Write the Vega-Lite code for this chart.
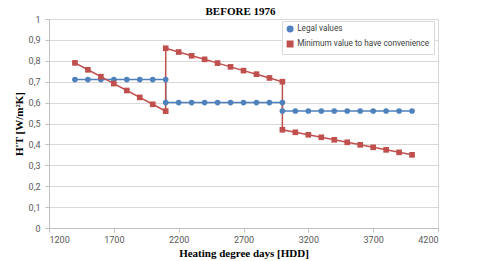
{
  "$schema": "https://vega.github.io/schema/vega-lite/v6.json",
  "width": 389,
  "height": 209,
  "autosize": "none",
  "padding": {"left": 49, "top": 19, "right": 42, "bottom": 33},
  "background": "white",
  "title": {"text": "BEFORE 1976", "font": "Liberation Serif", "fontSize": 11, "fontWeight": "bold", "color": "#000000", "offset": 0, "dy": 2, "dx": -3},
  "config": {
    "view": {"stroke": "#d9d9d9"},
    "axis": {"labelFont": "Roboto", "labelFontSize": 9, "labelColor": "#595959", "titleFont": "Liberation Serif", "titleFontSize": 11, "titleFontWeight": "bold", "titleColor": "#000000", "domainColor": "#bfbfbf", "tickColor": "#bfbfbf", "gridColor": "#d9d9d9"}
  },
  "data": {
    "values": [
      {"x": 1400, "y": 0.71, "s": "Legal values", "o": 1},
      {"x": 1500, "y": 0.71, "s": "Legal values", "o": 2},
      {"x": 1600, "y": 0.71, "s": "Legal values", "o": 3},
      {"x": 1700, "y": 0.71, "s": "Legal values", "o": 4},
      {"x": 1800, "y": 0.71, "s": "Legal values", "o": 5},
      {"x": 1900, "y": 0.71, "s": "Legal values", "o": 6},
      {"x": 2000, "y": 0.71, "s": "Legal values", "o": 7},
      {"x": 2100, "y": 0.71, "s": "Legal values", "o": 8},
      {"x": 2100, "y": 0.60, "s": "Legal values", "o": 9},
      {"x": 2200, "y": 0.60, "s": "Legal values", "o": 10},
      {"x": 2300, "y": 0.60, "s": "Legal values", "o": 11},
      {"x": 2400, "y": 0.60, "s": "Legal values", "o": 12},
      {"x": 2500, "y": 0.60, "s": "Legal values", "o": 13},
      {"x": 2600, "y": 0.60, "s": "Legal values", "o": 14},
      {"x": 2700, "y": 0.60, "s": "Legal values", "o": 15},
      {"x": 2800, "y": 0.60, "s": "Legal values", "o": 16},
      {"x": 2900, "y": 0.60, "s": "Legal values", "o": 17},
      {"x": 3000, "y": 0.60, "s": "Legal values", "o": 18},
      {"x": 3000, "y": 0.56, "s": "Legal values", "o": 19},
      {"x": 3100, "y": 0.56, "s": "Legal values", "o": 20},
      {"x": 3200, "y": 0.56, "s": "Legal values", "o": 21},
      {"x": 3300, "y": 0.56, "s": "Legal values", "o": 22},
      {"x": 3400, "y": 0.56, "s": "Legal values", "o": 23},
      {"x": 3500, "y": 0.56, "s": "Legal values", "o": 24},
      {"x": 3600, "y": 0.56, "s": "Legal values", "o": 25},
      {"x": 3700, "y": 0.56, "s": "Legal values", "o": 26},
      {"x": 3800, "y": 0.56, "s": "Legal values", "o": 27},
      {"x": 3900, "y": 0.56, "s": "Legal values", "o": 28},
      {"x": 4000, "y": 0.56, "s": "Legal values", "o": 29},
      {"x": 1400, "y": 0.790, "s": "Minimum value to have convenience", "o": 1},
      {"x": 1500, "y": 0.757, "s": "Minimum value to have convenience", "o": 2},
      {"x": 1600, "y": 0.724, "s": "Minimum value to have convenience", "o": 3},
      {"x": 1700, "y": 0.691, "s": "Minimum value to have convenience", "o": 4},
      {"x": 1800, "y": 0.658, "s": "Minimum value to have convenience", "o": 5},
      {"x": 1900, "y": 0.625, "s": "Minimum value to have convenience", "o": 6},
      {"x": 2000, "y": 0.592, "s": "Minimum value to have convenience", "o": 7},
      {"x": 2100, "y": 0.559, "s": "Minimum value to have convenience", "o": 8},
      {"x": 2100, "y": 0.860, "s": "Minimum value to have convenience", "o": 9},
      {"x": 2200, "y": 0.842, "s": "Minimum value to have convenience", "o": 10},
      {"x": 2300, "y": 0.824, "s": "Minimum value to have convenience", "o": 11},
      {"x": 2400, "y": 0.807, "s": "Minimum value to have convenience", "o": 12},
      {"x": 2500, "y": 0.789, "s": "Minimum value to have convenience", "o": 13},
      {"x": 2600, "y": 0.771, "s": "Minimum value to have convenience", "o": 14},
      {"x": 2700, "y": 0.753, "s": "Minimum value to have convenience", "o": 15},
      {"x": 2800, "y": 0.736, "s": "Minimum value to have convenience", "o": 16},
      {"x": 2900, "y": 0.718, "s": "Minimum value to have convenience", "o": 17},
      {"x": 3000, "y": 0.700, "s": "Minimum value to have convenience", "o": 18},
      {"x": 3000, "y": 0.470, "s": "Minimum value to have convenience", "o": 19},
      {"x": 3100, "y": 0.458, "s": "Minimum value to have convenience", "o": 20},
      {"x": 3200, "y": 0.446, "s": "Minimum value to have convenience", "o": 21},
      {"x": 3300, "y": 0.434, "s": "Minimum value to have convenience", "o": 22},
      {"x": 3400, "y": 0.422, "s": "Minimum value to have convenience", "o": 23},
      {"x": 3500, "y": 0.410, "s": "Minimum value to have convenience", "o": 24},
      {"x": 3600, "y": 0.398, "s": "Minimum value to have convenience", "o": 25},
      {"x": 3700, "y": 0.386, "s": "Minimum value to have convenience", "o": 26},
      {"x": 3800, "y": 0.374, "s": "Minimum value to have convenience", "o": 27},
      {"x": 3900, "y": 0.362, "s": "Minimum value to have convenience", "o": 28},
      {"x": 4000, "y": 0.350, "s": "Minimum value to have convenience", "o": 29}
    ]
  },
  "encoding": {
    "x": {"field": "x", "type": "quantitative", "scale": {"domain": [1200, 4200], "nice": false, "zero": false},
      "axis": {"values": [1200, 1700, 2200, 2700, 3200, 3700, 4200], "format": "d", "grid": false, "tickSize": 4, "labelPadding": 3, "title": "Heating degree days [HDD]", "titlePadding": 3}},
    "y": {"field": "y", "type": "quantitative", "scale": {"domain": [0, 1], "nice": false},
      "axis": {"values": [0, 0.1, 0.2, 0.3, 0.4, 0.5, 0.6, 0.7, 0.8, 0.9, 1], "labelExpr": "replace(format(datum.value, '.1~f'), '.', ',')", "tickSize": 4, "labelPadding": 5, "title": "H'T [W/m²K]", "titlePadding": 4}},
    "color": {"field": "s", "type": "nominal", "scale": {"domain": ["Legal values", "Minimum value to have convenience"], "range": ["#4F81BD", "#C0504D"]},
      "legend": {"title": null, "orient": "none", "legendX": 233, "legendY": 2, "labelFont": "Roboto", "labelFontSize": 8.2, "labelColor": "#404040", "fillColor": "white", "strokeColor": "#d9d9d9", "padding": 4, "rowPadding": 3, "symbolSize": 30, "labelLimit": 300, "labelOffset": 3}}
  },
  "layer": [
    {"mark": {"type": "line", "strokeWidth": 1.5}, "encoding": {"order": {"field": "o", "type": "quantitative"}, "detail": {"field": "s"}}},
    {"mark": {"type": "point", "filled": true, "size": 32, "opacity": 1},
      "encoding": {"shape": {"field": "s", "type": "nominal", "scale": {"domain": ["Legal values", "Minimum value to have convenience"], "range": ["circle", "square"]}, "legend": {"title": null}}}}
  ]
}
